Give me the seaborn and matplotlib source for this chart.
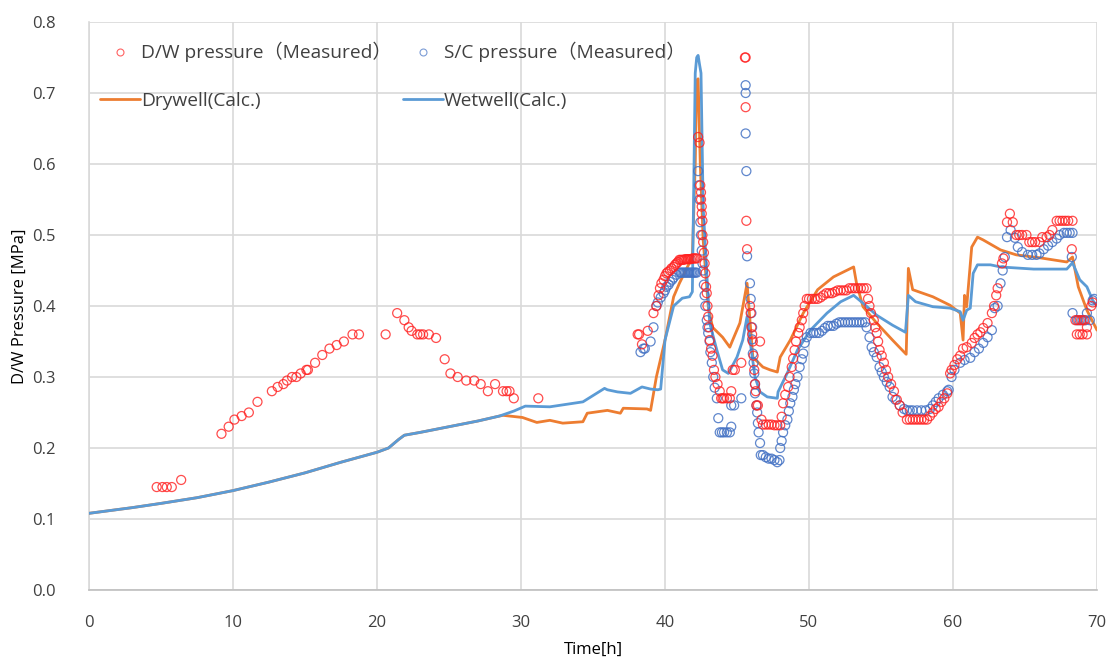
import numpy as np
import pandas as pd
import matplotlib
matplotlib.use("Agg")
import matplotlib.pyplot as plt
from matplotlib.lines import Line2D
import seaborn as sns

# ---------------- data ----------------
dw_meas_t = [4.7, 5.1, 5.4, 5.75, 6.4,
             9.2, 9.7, 10.1, 10.6, 11.1, 11.7, 12.7, 13.1, 13.5, 13.75, 14.1, 14.4, 14.7, 15.1, 15.2,
             15.7, 16.2, 16.7, 17.2, 17.7, 18.3, 18.75, 20.6, 21.4, 21.9, 22.2, 22.4, 22.8, 23.0, 23.2,
             23.6, 24.1, 24.7, 25.1, 25.6, 26.2, 26.75, 27.2, 27.7, 28.2, 28.75, 29.0, 29.2, 29.5, 31.2,
             38.1, 38.2, 38.4, 38.8, 39.2, 39.4, 39.55, 39.65, 39.75, 39.9, 40.0, 40.1, 40.2, 40.35, 40.45,
             40.6, 40.7, 40.8, 40.9, 41.0, 41.1, 41.2, 41.3, 41.4, 41.5, 41.6, 41.7, 41.8, 41.9, 42.0, 42.1, 42.2,
             42.3, 42.4, 42.45, 42.5, 42.5, 42.55, 42.55, 42.6, 42.6, 42.65, 42.7, 42.75, 42.8, 42.85, 42.9,
             42.95, 43.0, 43.05, 43.1, 43.2, 43.3, 43.4, 43.5, 43.65, 43.8, 43.9, 44.0, 44.1, 44.3, 44.5,
             44.6, 44.7, 44.85, 45.3,
             45.55, 45.6, 45.6, 45.65, 45.7, 45.9, 45.95, 46.0, 46.05, 46.1, 46.15, 46.2, 46.25, 46.3, 46.35,
             46.6, 46.45, 46.7, 46.8, 47.0, 47.2, 47.4, 47.6, 47.8, 48.0, 48.1, 48.2, 48.35, 48.55, 48.65,
             48.8, 48.9, 49.0, 49.1, 49.25, 49.35, 49.5, 49.6, 49.7, 49.85, 50.0, 50.2, 50.4, 50.6, 50.8,
             51.0, 51.2, 51.4, 51.6, 51.8, 52.0, 52.2, 52.4, 52.6, 52.8, 53.0, 53.2, 53.4, 53.6, 53.8, 54.0,
             54.1, 54.2, 54.3, 54.5, 54.6, 54.7, 54.8, 54.9, 55.05, 55.2, 55.35, 55.5, 55.7, 55.9, 56.1,
             56.3, 56.5, 56.8, 57.0, 57.2, 57.4, 57.6, 57.8, 58.0, 58.2, 58.4, 58.6, 58.8, 59.0, 59.2, 59.4,
             59.6, 59.8, 59.9, 60.1, 60.3, 60.5, 60.7, 60.95, 61.3, 61.5, 61.7, 61.9, 62.1, 62.4, 62.7,
             62.85, 63.0, 63.1, 63.4, 63.5, 63.75, 63.95, 64.15, 64.4, 64.6, 64.8, 65.1, 65.3, 65.5, 65.7,
             66.0, 66.2, 66.5, 66.7, 66.9, 67.2, 67.4, 67.6, 67.8, 68.0, 68.3, 68.25, 68.5, 68.7, 68.9, 69.1,
             68.6, 68.8, 69.0, 69.3, 69.3, 69.6, 69.7]
dw_meas_p = [0.145, 0.145, 0.145, 0.145, 0.155,
             0.22, 0.23, 0.24, 0.245, 0.25, 0.265, 0.28, 0.286, 0.29, 0.295, 0.30, 0.30, 0.305, 0.31, 0.31,
             0.32, 0.331, 0.34, 0.345, 0.35, 0.36, 0.36, 0.36, 0.39, 0.38, 0.37, 0.365, 0.36, 0.36, 0.36,
             0.36, 0.355, 0.325, 0.305, 0.30, 0.295, 0.295, 0.29, 0.28, 0.29, 0.28, 0.28, 0.28, 0.27, 0.27,
             0.36, 0.36, 0.346, 0.365, 0.39, 0.40, 0.415, 0.425, 0.432, 0.437, 0.442, 0.446, 0.448, 0.45, 0.453,
             0.455, 0.458, 0.46, 0.462, 0.465, 0.465, 0.465, 0.465, 0.466, 0.466, 0.466, 0.466, 0.466, 0.467, 0.467, 0.467, 0.467,
             0.638, 0.63, 0.57, 0.56, 0.55, 0.54, 0.53, 0.52, 0.50, 0.49, 0.475, 0.46, 0.446, 0.427, 0.418,
             0.40, 0.385, 0.37, 0.352, 0.34, 0.33, 0.31, 0.30, 0.29, 0.28, 0.27, 0.27, 0.27, 0.27, 0.27,
             0.28, 0.31, 0.31, 0.32,
             0.75, 0.75, 0.68, 0.52, 0.48, 0.40, 0.39, 0.37, 0.36, 0.35, 0.33, 0.31, 0.29, 0.28, 0.26,
             0.35, 0.26, 0.24, 0.233, 0.233, 0.233, 0.233, 0.232, 0.232, 0.232, 0.244, 0.263, 0.275, 0.286, 0.30,
             0.314, 0.326, 0.338, 0.35, 0.362, 0.37, 0.38, 0.39, 0.40, 0.41, 0.41, 0.41, 0.41, 0.41, 0.412,
             0.415, 0.418, 0.418, 0.418, 0.42, 0.422, 0.422, 0.422, 0.422, 0.425, 0.425, 0.425, 0.425, 0.425, 0.425, 0.425,
             0.41, 0.40, 0.39, 0.38, 0.37, 0.362, 0.35, 0.338, 0.33, 0.32, 0.31, 0.30, 0.29, 0.28, 0.268,
             0.26, 0.25, 0.24, 0.24, 0.24, 0.24, 0.24, 0.24, 0.24, 0.24, 0.245, 0.25, 0.255, 0.258, 0.265, 0.27,
             0.277, 0.305, 0.31, 0.317, 0.325, 0.33, 0.34, 0.342, 0.348, 0.355, 0.36, 0.363, 0.369, 0.376, 0.39,
             0.40, 0.415, 0.425, 0.46, 0.467, 0.518, 0.53, 0.518, 0.50, 0.50, 0.50, 0.50, 0.49, 0.49, 0.49,
             0.49, 0.497, 0.497, 0.50, 0.507, 0.52, 0.52, 0.52, 0.52, 0.52, 0.52, 0.48, 0.38, 0.38, 0.38, 0.38,
             0.36, 0.36, 0.36, 0.36, 0.37, 0.40, 0.405]

sc_meas_t = [38.3, 38.5, 38.6, 39.0, 39.2, 39.4, 39.5, 39.7, 39.9, 40.0, 40.1, 40.25, 40.35, 40.5, 40.6, 40.8,
             41.0, 41.1, 41.2, 41.3, 41.4, 41.5, 41.6, 41.7, 41.8, 41.9, 42.0, 42.1, 42.2,
             42.3, 42.35, 42.4, 42.45, 42.5, 42.55, 42.6, 42.65, 42.7, 42.75, 42.8, 42.9, 42.95, 43.0, 43.1,
             43.15, 43.25, 43.35, 43.45, 43.6, 43.7, 43.8, 43.95, 44.1, 44.3, 44.5, 44.6, 44.6, 44.8, 45.3,
             45.6, 45.6, 45.6, 45.65, 45.7, 45.9, 45.95, 46.0, 46.05, 46.05, 46.1, 46.15, 46.2, 46.25, 46.25,
             46.35, 46.4, 46.45, 46.5, 46.6, 46.65, 46.8, 47.0, 47.2, 47.4, 47.6, 47.8, 47.95, 48.0, 48.1,
             48.2, 48.35, 48.5, 48.6, 48.7, 48.85, 48.95, 49.05, 49.2, 49.35, 49.5, 49.6, 49.7, 49.85, 50.1,
             50.3, 50.5, 50.7, 50.9, 51.1, 51.3, 51.5, 51.7, 51.9, 52.1, 52.3, 52.5, 52.7, 52.9, 53.1, 53.3,
             53.5, 53.7, 53.9, 54.0, 54.2, 54.35, 54.5, 54.7, 54.9, 55.05, 55.2, 55.4, 55.6, 55.8, 56.0, 56.3,
             56.6, 56.8, 57.0, 57.2, 57.5, 57.8, 58.1, 58.4, 58.6, 58.8, 59.0, 59.3, 59.6, 59.7, 59.9, 60.1,
             60.5, 60.8, 61.2, 61.5, 61.8, 62.1, 62.4, 62.7, 62.9, 63.1, 63.3, 63.45, 63.6, 63.75, 64.0, 64.3,
             64.5, 64.8, 65.2, 65.5, 65.8, 66.0, 66.3, 66.6, 66.9, 67.2, 67.4, 67.7, 67.9, 68.1, 68.3, 68.25,
             68.3, 68.6, 68.8, 69.0, 69.2, 69.5, 69.3, 69.7, 69.8]
sc_meas_p = [0.335, 0.34, 0.34, 0.35, 0.37, 0.40, 0.405, 0.412, 0.418, 0.422, 0.427, 0.43, 0.434, 0.437, 0.44, 0.444,
             0.447, 0.447, 0.447, 0.447, 0.447, 0.447, 0.447, 0.447, 0.447, 0.447, 0.447, 0.447, 0.447,
             0.59, 0.57, 0.55, 0.518, 0.50, 0.478, 0.46, 0.45, 0.43, 0.415, 0.40, 0.38, 0.37, 0.362, 0.35,
             0.335, 0.32, 0.30, 0.285, 0.27, 0.242, 0.222, 0.222, 0.222, 0.222, 0.222, 0.23, 0.26, 0.26, 0.27,
             0.711, 0.70, 0.643, 0.59, 0.47, 0.432, 0.41, 0.39, 0.37, 0.353, 0.333, 0.32, 0.305, 0.29, 0.277,
             0.26, 0.25, 0.235, 0.222, 0.207, 0.19, 0.19, 0.187, 0.185, 0.185, 0.183, 0.18, 0.183, 0.20, 0.21,
             0.222, 0.232, 0.24, 0.252, 0.263, 0.272, 0.282, 0.29, 0.30, 0.314, 0.325, 0.333, 0.348, 0.356, 0.362,
             0.362, 0.362, 0.362, 0.365, 0.369, 0.372, 0.372, 0.372, 0.375, 0.377, 0.377, 0.377, 0.377, 0.377, 0.377, 0.377,
             0.377, 0.377, 0.377, 0.37, 0.356, 0.342, 0.335, 0.328, 0.314, 0.307, 0.30, 0.293, 0.286, 0.272, 0.268, 0.26,
             0.255, 0.253, 0.253, 0.253, 0.253, 0.253, 0.253, 0.255, 0.26, 0.265, 0.27, 0.275, 0.28, 0.282, 0.30, 0.31,
             0.32, 0.324, 0.327, 0.335, 0.34, 0.348, 0.356, 0.366, 0.397, 0.40, 0.432, 0.45, 0.469, 0.497, 0.507, 0.496,
             0.483, 0.476, 0.472, 0.472, 0.472, 0.474, 0.48, 0.485, 0.49, 0.495, 0.50, 0.503, 0.503, 0.503, 0.503, 0.469,
             0.39, 0.38, 0.38, 0.38, 0.38, 0.38, 0.39, 0.408, 0.41]

dw_calc_t = [0, 1.5, 3, 5, 7.5, 10, 12.5, 15, 17.5, 20, 20.8, 21.5, 21.9, 23, 25, 27, 28.5,
             28.75, 30.1, 31.1, 32.0, 32.9, 34.3, 34.6, 36.0, 36.9, 37.1, 38.75, 39.0, 39.4, 40.0, 40.6,
             41.0, 41.9, 42.1, 42.2, 42.3, 42.45, 42.65, 43.0, 43.3, 44.0, 44.5, 44.7, 45.2, 45.7, 46.1,
             46.8, 47.3, 47.8, 48.0, 48.7, 49.6, 50.6, 51.7, 53.1, 53.3, 53.75, 54.7, 55.8, 56.75, 56.9,
             57.2, 58.6, 59.8, 60.5, 60.7, 60.8, 60.95, 61.3, 61.7, 62.1, 63.3, 64.4, 66.0, 67.9, 68.3,
             68.7, 69.3, 70.0]
dw_calc_p = [0.108, 0.112, 0.116, 0.122, 0.13, 0.14, 0.152, 0.165, 0.18, 0.194, 0.20, 0.212, 0.218, 0.222, 0.23, 0.238, 0.245,
             0.246, 0.243, 0.236, 0.239, 0.235, 0.237, 0.249, 0.253, 0.249, 0.256, 0.255, 0.253, 0.30, 0.352, 0.413,
             0.432, 0.469, 0.60, 0.718, 0.72, 0.60, 0.493, 0.40, 0.37, 0.356, 0.342, 0.352, 0.376, 0.432, 0.328,
             0.314, 0.31, 0.307, 0.328, 0.352, 0.39, 0.423, 0.441, 0.455, 0.432, 0.399, 0.376, 0.352, 0.332, 0.453,
             0.423, 0.413, 0.401, 0.39, 0.352, 0.415, 0.399, 0.483, 0.497, 0.493, 0.479, 0.472, 0.468, 0.462, 0.469,
             0.427, 0.394, 0.366]

ww_calc_t = [0, 1.5, 3, 5, 7.5, 10, 12.5, 15, 17.5, 20, 20.8, 21.5, 21.9, 23, 25, 27, 28.5,
             29.5, 30.3, 32.0, 34.3, 35.8, 36.0, 36.7, 37.6, 38.4, 39.0, 39.5, 39.7, 40.0, 40.6, 41.2,
             41.7, 41.9, 42.1, 42.2, 42.3, 42.4, 42.5, 42.65, 42.9, 43.1, 43.6, 44.0, 44.4, 45.0, 45.4,
             45.7, 45.9, 46.25, 46.6, 47.1, 47.8, 47.85, 48.5, 49.2, 50.1, 51.25, 52.2, 53.1, 53.75, 54.7,
             55.8, 56.7, 56.9, 57.4, 58.6, 59.8, 60.5, 60.7, 60.95, 61.2, 61.4, 61.7, 62.6, 63.3, 65.6,
             67.9, 68.3, 68.8, 69.3, 69.7, 70.0]
ww_calc_p = [0.108, 0.112, 0.116, 0.122, 0.13, 0.14, 0.152, 0.165, 0.18, 0.194, 0.20, 0.212, 0.218, 0.222, 0.23, 0.238, 0.245,
             0.252, 0.259, 0.258, 0.265, 0.284, 0.282, 0.279, 0.277, 0.286, 0.283, 0.282, 0.283, 0.352, 0.40, 0.411,
             0.413, 0.42, 0.728, 0.75, 0.753, 0.74, 0.728, 0.54, 0.446, 0.376, 0.338, 0.31, 0.305, 0.328, 0.352,
             0.385, 0.352, 0.30, 0.279, 0.272, 0.27, 0.279, 0.306, 0.338, 0.366, 0.39, 0.406, 0.415, 0.404, 0.387,
             0.373, 0.363, 0.415, 0.406, 0.399, 0.397, 0.392, 0.38, 0.394, 0.397, 0.446, 0.458, 0.458, 0.455, 0.452,
             0.452, 0.461, 0.437, 0.427, 0.408, 0.40]

x_ticks = [0, 10, 20, 30, 40, 50, 60, 70]
y_ticks = [0.0, 0.1, 0.2, 0.3, 0.4, 0.5, 0.6, 0.7, 0.8]

labels = ["D/W pressure（Measured）", "S/C pressure（Measured）", "Drywell(Calc.)", "Wetwell(Calc.)"]

# ---------------- style ----------------
sns.set_theme(style="whitegrid")
plt.rcParams["font.family"] = ["Open Sans", "Noto Sans CJK JP", "DejaVu Sans"]

RED = "#FF2020"
BLUE_M = "#4472C4"
ORANGE = "#ED7D31"
BLUE_L = "#5B9BD5"
TXT = "#404040"

fig = plt.figure(figsize=(11.09, 6.6), dpi=100)
ax = fig.add_axes([89 / 1109, 1 - 590 / 660, (1097 - 89) / 1109, (590 - 22) / 660])

sns.lineplot(x=dw_calc_t, y=dw_calc_p, ax=ax, color=ORANGE, linewidth=2.0, sort=False,
             estimator=None, zorder=3)
sns.lineplot(x=ww_calc_t, y=ww_calc_p, ax=ax, color=BLUE_L, linewidth=2.0, sort=False,
             estimator=None, zorder=4)
sns.scatterplot(x=sc_meas_t, y=sc_meas_p, ax=ax, marker="o", s=42, color=BLUE_M,
                facecolor="none", edgecolor=BLUE_M, linewidth=0.9, alpha=0.85, zorder=5)
sns.scatterplot(x=dw_meas_t, y=dw_meas_p, ax=ax, marker="o", s=42, color=RED,
                facecolor="none", edgecolor=RED, linewidth=0.9, alpha=0.8, zorder=6)

ax.set_xlim(0, 70)
ax.set_ylim(0, 0.8)
ax.set_xticks(x_ticks)
ax.set_yticks(y_ticks)
ax.set_yticklabels([f"{v:.1f}" for v in y_ticks])
ax.tick_params(axis="both", length=0, labelsize=12, labelcolor=TXT)
ax.tick_params(axis="x", pad=18)
ax.tick_params(axis="y", pad=24)
ax.grid(True, color="#D9D9D9", linewidth=1.2)
for side in ["top", "right"]:
    ax.spines[side].set_visible(False)
ax.spines["left"].set_color("#D9D9D9")
ax.spines["bottom"].set_color("#BFBFBF")
ax.spines["left"].set_linewidth(1.2)
ax.spines["bottom"].set_linewidth(1.2)

ax.set_xlabel("Time[h]", fontsize=12, color="#000000", labelpad=8)
ax.set_ylabel("D/W Pressure [MPa]", fontsize=12, color="#000000", labelpad=3)

handles = [
    Line2D([], [], linestyle="none", marker="o", markersize=5, markerfacecolor="none",
           markeredgecolor=RED, markeredgewidth=0.8, alpha=0.7),
    Line2D([], [], color=ORANGE, linewidth=2.0),
    Line2D([], [], linestyle="none", marker="o", markersize=5, markerfacecolor="none",
           markeredgecolor=BLUE_M, markeredgewidth=0.8, alpha=0.7),
    Line2D([], [], color=BLUE_L, linewidth=2.0),
]
hl = [labels[0], labels[2], labels[1], labels[3]]
leg = ax.legend(handles, hl, ncol=2, loc="upper left", bbox_to_anchor=(0.011, 0.965),
                frameon=False, fontsize=13.8, labelcolor=TXT, handlelength=2.1,
                handletextpad=0.05, columnspacing=0.57, labelspacing=1.55,
                borderpad=0, borderaxespad=0)

fig.savefig("out.png", dpi=100)
